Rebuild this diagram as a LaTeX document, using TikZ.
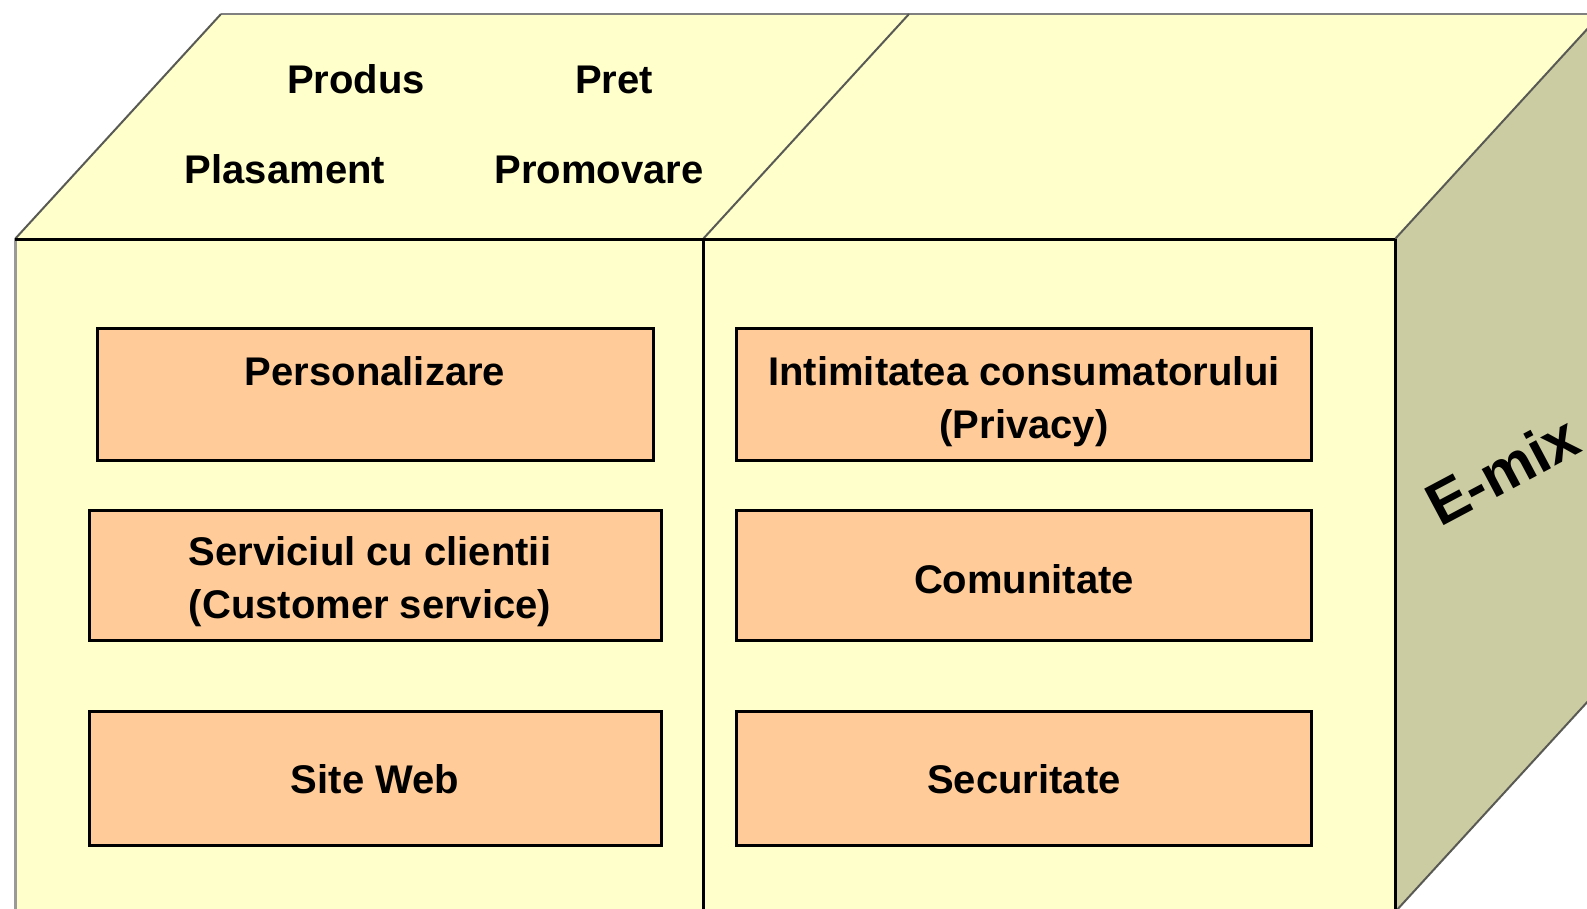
\documentclass[tikz,border=0pt]{standalone}
\usepackage{fontspec}
\setmainfont{Liberation Sans}
\definecolor{yel}{HTML}{FFFFCC}
\definecolor{boxc}{HTML}{FFCC99}
\definecolor{sidec}{HTML}{CCCCA3}
\definecolor{edgegrey}{HTML}{808080}
\definecolor{diaggrey}{HTML}{5A5A55}
\definecolor{leftgrey}{HTML}{9A9A9A}
\begin{document}
\begin{tikzpicture}[x=1pt,y=-1pt,
  lbl/.style={font=\bfseries\fontsize{40}{53}\selectfont, inner sep=0pt},
  box/.style={draw=black, line width=3pt, fill=boxc, inner sep=0pt},
  blackedge/.style={draw=black, line width=3pt},
  greyedge/.style={draw=diaggrey, line width=2pt}]
\useasboundingbox (0,0) rectangle (1587,908);
\clip (0,0) rectangle (1587,908);
% cube corners
\coordinate (FTL) at (15,239);
\coordinate (FTR) at (1395,239);
\coordinate (FBL) at (15,912);
\coordinate (FBR) at (1395,912);
\coordinate (BTL) at (221,14);
\coordinate (BTR) at (1601,14);
\coordinate (BBR) at (1601,687);
\coordinate (DT) at (703,239);
\coordinate (DB) at (703,912);
\coordinate (DK) at (909,14);
% faces
\fill[yel] (FTL) rectangle (FBR);
\fill[yel] (FTL) -- (BTL) -- (BTR) -- (FTR) -- cycle;
\draw[draw=edgegrey, line width=2pt] (BTL) -- (BTR);
\draw[greyedge] (FTL) -- (BTL);
\draw[greyedge] (DT) -- (DK);
\fill[sidec] (FTR) -- (BTR) -- (BBR) -- (FBR) -- cycle;
\draw[greyedge] (FTR) -- (BTR);
\draw[greyedge] (FBR) -- (BBR);
\draw[draw=leftgrey, line width=3pt] (FTL) -- (FBL);
\draw[blackedge] (FTL) -- (FTR);
\draw[blackedge] (FTR) -- (FBR);
\draw[blackedge] (DT) -- (DB);
% top face labels
\node[lbl, anchor=base] (produs) at (356,93) {Produs};
\node[lbl, anchor=base] (pret) at (614,93) {Pret};
\node[lbl, anchor=base] (plasament) at (285,183) {Plasament};
\node[lbl, anchor=base] (promovare) at (599,183) {Promovare};
% boxes
\node[box, minimum width=556pt, minimum height=132pt] (pers) at (375.5,394.5) {};
\node[box, minimum width=572pt, minimum height=130pt] (serv) at (375.5,575.5) {};
\node[box, minimum width=572pt, minimum height=134pt] (site) at (375.5,778.5) {};
\node[box, minimum width=575pt, minimum height=132pt] (intim) at (1024,394.5) {};
\node[box, minimum width=575pt, minimum height=130pt] (comun) at (1024,575.5) {};
\node[box, minimum width=575pt, minimum height=134pt] (secur) at (1024,778.5) {};
% box texts
\node[lbl, anchor=base] (persT) at (375,385) {Personalizare};
\node[lbl, anchor=base] (servT1) at (370,565) {Serviciul cu clientii};
\node[lbl, anchor=base] (servT2) at (370,618) {(Customer service)};
\node[lbl, anchor=base] (siteT) at (375,793) {Site Web};
\node[lbl, anchor=base] (intimT1) at (1024,385) {Intimitatea consumatorului};
\node[lbl, anchor=base] (intimT2) at (1024,438) {(Privacy)};
\node[lbl, anchor=base] (comunT) at (1024,593) {Comunitate};
\node[lbl, anchor=base] (securT) at (1024,793) {Securitate};
% side label
\node[font=\bfseries\fontsize{60}{72}\selectfont, inner sep=0pt, anchor=base west, rotate=28] (emix) at (1440,528) {E-mix};
\end{tikzpicture}
\end{document}
